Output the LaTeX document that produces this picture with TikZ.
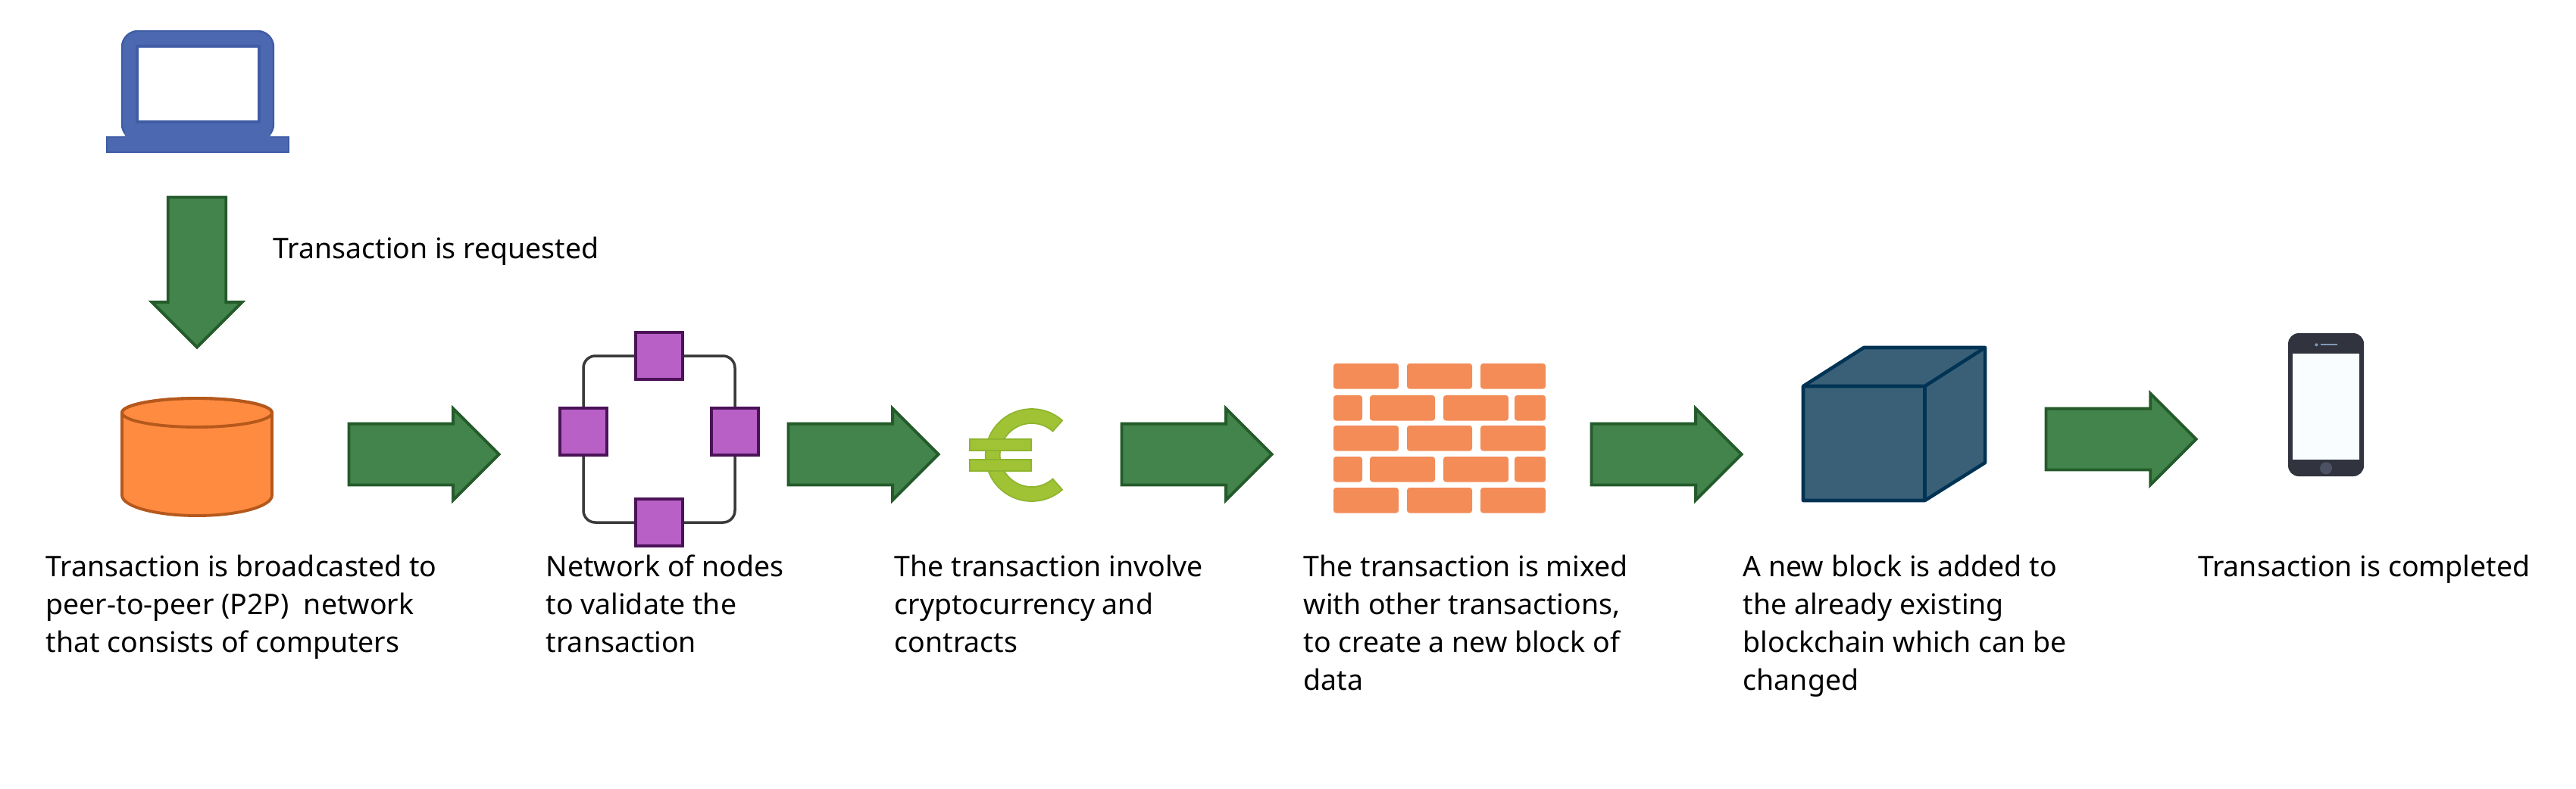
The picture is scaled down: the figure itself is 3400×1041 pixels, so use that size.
\documentclass[tikz,border=0pt]{standalone}
\usepackage{fontspec}
\setmainfont{Noto Sans}
\usepackage{xcolor}
\usepackage{tikz}
\usetikzlibrary{calc,shapes.arrows}
\definecolor{flowfill}{HTML}{42844B}
\definecolor{flowline}{HTML}{245B2B}
\definecolor{laptop}{HTML}{4C68B0}
\definecolor{laptopline}{HTML}{3F5CA4}
\definecolor{drum}{HTML}{FF8B41}
\definecolor{drumline}{HTML}{B5581C}
\definecolor{peer}{HTML}{B860C6}
\definecolor{peerline}{HTML}{4B1258}
\definecolor{ringline}{HTML}{3A3A3A}
\definecolor{euro}{HTML}{9FC335}
\definecolor{euroline}{HTML}{8FB52F}
\definecolor{brick}{HTML}{F48C58}
\definecolor{cube}{HTML}{3A6078}
\definecolor{cubeline}{HTML}{003354}
\definecolor{phone}{HTML}{31343F}
\definecolor{screen}{HTML}{F9FDFF}
\definecolor{speaker}{HTML}{8299B5}
\definecolor{homekey}{HTML}{4C5164}
\tikzset{
  flow/.style={single arrow, draw=flowline, fill=flowfill, line width=1.1pt, line join=miter, anchor=tail,
    inner xsep=0pt, inner ysep=0.385cm, outer sep=0pt, single arrow tip angle=90, single arrow head extend=0.2cm,
    minimum width=1.17cm, minimum height=1.98cm},
  peerbox/.style={rectangle, draw=peerline, fill=peer, line width=1.2pt, minimum size=0.62cm, inner sep=0pt},
  ring/.style={draw=ringline, line width=1pt, rounded corners=4.5pt},
  brickbox/.style={fill=brick, rounded corners=1pt},
  lab/.style={anchor=north west, align=left, inner sep=0pt, font=\fontsize{10.65}{14.23}\selectfont},
}
\begin{document}
\begin{tikzpicture}[x=0.01cm, y=-0.01cm]
  \useasboundingbox (0,0) rectangle (3400,1041);

  % Laptop
  \fill[laptop, draw=laptopline, line width=0.7pt, rounded corners=6pt] (161,41) rectangle (361,185);
  \fill[laptop, draw=laptopline, line width=0.7pt] (141,181) rectangle (381,201);
  \fill[laptop] (165,170) rectangle (357,185);
  \draw[laptopline, line width=0.9pt, fill=white] (181,61) rectangle (342,161);

  \node[flow, shape border rotate=270, inner xsep=0.34cm, inner ysep=0.34cm, minimum width=1.19cm] (reqarrow) at (260,260.5) {};
  \node[lab] (reqtext) at (360,312) {Transaction is requested};

  % Cylinder
  \filldraw[fill=drum, draw=drumline, line width=1.1pt] (161,545) -- (161,654)
    arc[start angle=180, end angle=0, x radius=99, y radius=27] -- (359,545)
    arc[start angle=0, end angle=-180, x radius=99, y radius=19] -- cycle;
  \draw[drumline, line width=1.1pt] (260,545) ellipse[x radius=99, y radius=19];
  \node[flow] (arrowA) at (460.5,600) {};
  \node[lab] (textA) at (60,732) {Transaction is broadcasted to\\peer-to-peer (P2P)\ \ network\\that consists of computers};

  % Ring of peers
  \node[peerbox] (peerT) at (870,470) {};
  \node[peerbox] (peerL) at (770,570) {};
  \node[peerbox] (peerR) at (970,570) {};
  \node[peerbox] (peerB) at (870,690) {};
  \draw[ring] (peerT) -| (peerL);
  \draw[ring] (peerL) |- (peerB);
  \draw[ring] (peerB) -| (peerR);
  \draw[ring] (peerR) |- (peerT);
  \node[flow] (arrowB) at (1040.5,600) {};
  \node[lab] (textB) at (720,732) {Network of nodes\\to validate the\\transaction};

  % Euro sign
  \coordinate (E) at (1361.7,601);
  \fill[euro, draw=euroline, line width=0.5pt] ($(E)+(-48.5:61)$) arc[start angle=-48.5, end angle=-311.5, radius=61]
    -- ($(E)+(48.5:42)$) arc[start angle=48.5, end angle=311.5, radius=42] -- cycle;
  \fill[euro, draw=euroline, line width=0.5pt] (1280,580) rectangle (1361,595);
  \fill[euro, draw=euroline, line width=0.5pt] (1280,607) rectangle (1361,622);
  \node[flow] (arrowC) at (1480.5,600) {};
  \node[lab] (textC) at (1180,732) {The transaction involve\\cryptocurrency and\\contracts};

  % Brick wall
  \foreach \y in {480,562,644}
    \foreach \x in {1760,1857,1954}
      \fill[brickbox] (\x,\y) rectangle ++(86,33.5);
  \foreach \y in {522,603}{
    \fill[brickbox] (1760,\y) rectangle ++(38,33.5);
    \fill[brickbox] (1808,\y) rectangle ++(86,33.5);
    \fill[brickbox] (1905,\y) rectangle ++(86,33.5);
    \fill[brickbox] (1999,\y) rectangle ++(41,33.5);
  }
  \node[flow] (arrowD) at (2100.5,600) {};
  \node[lab] (textD) at (1720,732) {The transaction is mixed\\with other transactions,\\to create a new block of\\data};

  % Block
  \filldraw[fill=cube, draw=cubeline, line width=1.3pt, line join=round]
    (2380,510) -- (2460,459) -- (2620,459) -- (2620,611) -- (2540.5,661) -- (2380,661) -- cycle;
  \draw[cubeline, line width=1.3pt, line join=round] (2380,510) -- (2540.5,510) -- (2620,459);
  \draw[cubeline, line width=1.3pt] (2540.5,510) -- (2540.5,661);
  \node[flow] (arrowE) at (2700.5,580) {};
  \node[lab] (textE) at (2300,732) {A new block is added to\\the already existing\\blockchain which can be\\changed};

  % Phone
  \fill[phone, rounded corners=4pt] (3020,440) rectangle (3120,629);
  \fill[screen] (3026.3,466.7) rectangle (3113.7,607);
  \fill[homekey] (3070,618.3) circle (8);
  \fill[speaker] (3057.3,455.3) circle (2);
  \draw[speaker, line width=0.6pt] (3063.3,455.3) -- (3085,455.3);
  \node[lab] (textF) at (2900.5,732) {Transaction is completed};
\end{tikzpicture}
\end{document}
